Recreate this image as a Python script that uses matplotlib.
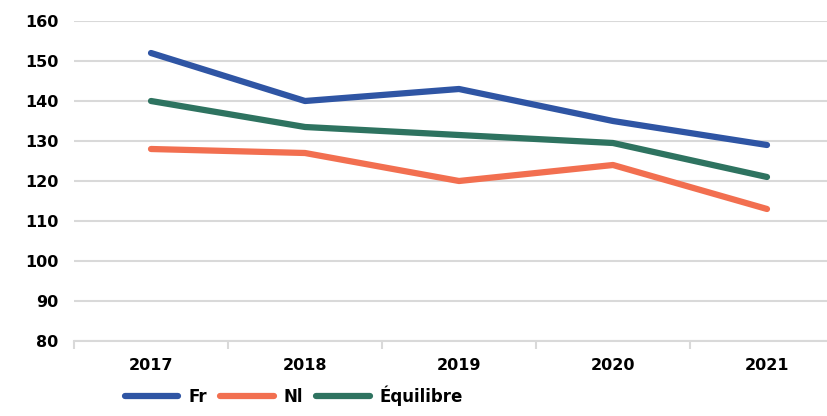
import matplotlib.pyplot as plt

years = ['2017', '2018', '2019', '2020', '2021']
fr = [152, 140, 143, 135, 129]
nl = [128, 127, 120, 124, 113]
equilibre = [140, 133.5, 131.5, 129.5, 121]

plt.rcParams['font.family'] = ['DejaVu Sans']
plt.rcParams['font.weight'] = 'bold'

fig = plt.figure(figsize=(8.28, 4.16), dpi=100)
ax = fig.add_axes([74/828, 75/416, 770/828, 320/416])

x = range(len(years))
ax.plot(x, fr, color='#2f55a4', lw=4.5, solid_capstyle='round', label='Fr')
ax.plot(x, nl, color='#f26f50', lw=4.5, solid_capstyle='round', label='Nl')
ax.plot(x, equilibre, color='#2e7360', lw=4.5, solid_capstyle='round', label='Équilibre')

ax.set_ylim(80, 160)
ax.set_yticks(range(80, 161, 10))
ax.set_xlim(-0.5, 4.5)
ax.set_xticks(x)
ax.set_xticklabels(years)
ax.set_xticks([i - 0.5 for i in range(6)], minor=True)
ax.grid(axis='y', color='#d9d9d9', lw=1.5)
ax.set_axisbelow(True)
for s in ['top', 'right', 'left']:
    ax.spines[s].set_visible(False)
ax.spines['bottom'].set_color('#d9d9d9')
ax.spines['bottom'].set_linewidth(1.5)
ax.tick_params(axis='y', length=0, pad=11, labelsize=11.5)
ax.tick_params(axis='x', which='major', length=0, pad=12, labelsize=11.5)
ax.tick_params(axis='x', which='minor', length=6, width=1.5, color='#d9d9d9')

fig.legend(loc='lower left', bbox_to_anchor=(110/828, -5/416), ncol=3, frameon=False,
           fontsize=12, handlelength=3.2, handletextpad=0.6, columnspacing=0.8)

fig.savefig('out.png', dpi=100)
